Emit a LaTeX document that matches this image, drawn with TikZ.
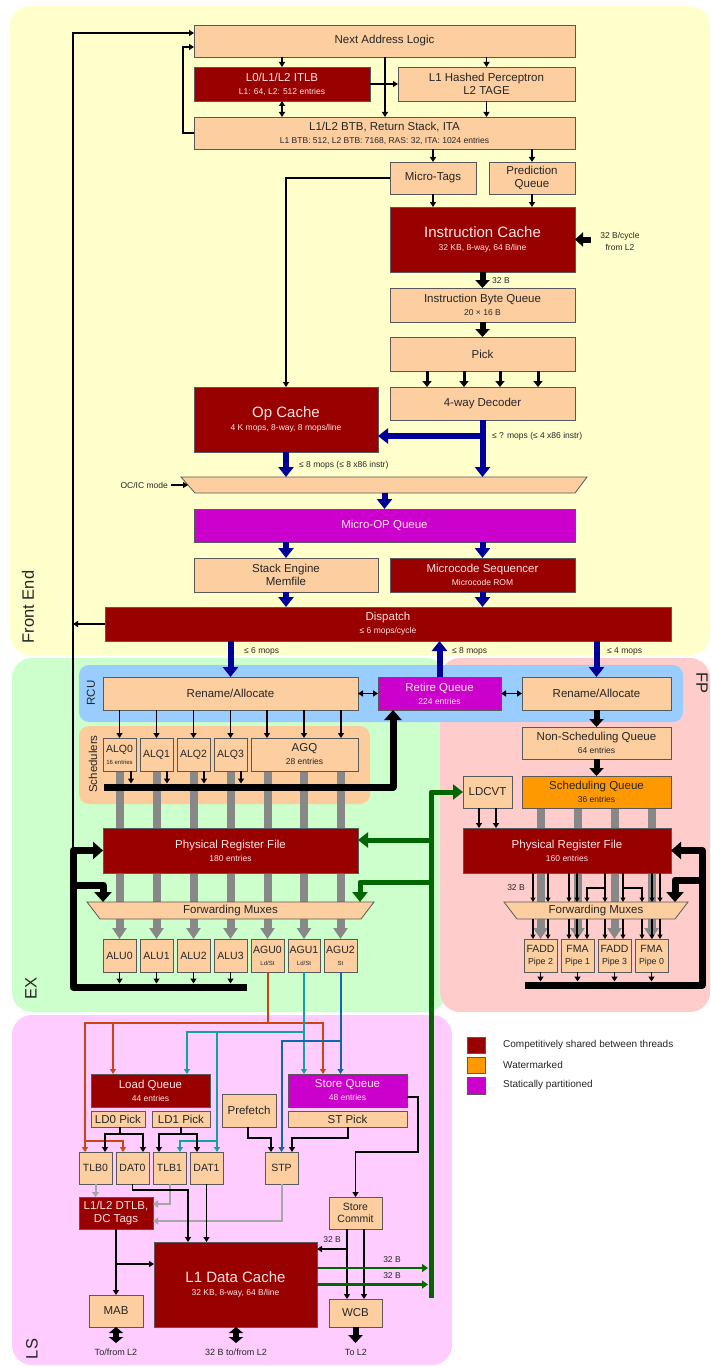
\documentclass[tikz,border=0pt]{standalone}
\usepackage{fontspec}
\setmainfont{Liberation Sans}
\usetikzlibrary{arrows.meta}
\pgfdeclarelayer{back}
\pgfdeclarelayer{mid}
\pgfsetlayers{back,mid,main}
\definecolor{peach}{RGB}{252,206,160}
\definecolor{dred}{RGB}{153,0,0}
\definecolor{mag}{RGB}{204,0,204}
\definecolor{orng}{RGB}{255,153,0}
\definecolor{yel}{RGB}{255,255,204}
\definecolor{grnbg}{RGB}{204,255,204}
\definecolor{fpbg}{RGB}{255,204,204}
\definecolor{lsbg}{RGB}{255,204,255}
\definecolor{rcubg}{RGB}{153,204,255}
\definecolor{schbg}{RGB}{252,204,156}
\definecolor{dblue}{RGB}{0,0,153}
\definecolor{dgreen}{RGB}{0,102,0}
\definecolor{gybar}{RGB}{136,136,136}
\definecolor{txtw}{RGB}{255,228,228}
\definecolor{ored}{RGB}{204,68,17}
\definecolor{tealw}{RGB}{17,160,170}
\definecolor{bluew}{RGB}{17,102,170}
\newcommand\fm{\fontsize{11.5}{13}\selectfont}
\newcommand\smf{\fontsize{8.5}{12}\selectfont}
\newcommand\tnf{\fontsize{6}{10}\selectfont}
\newcommand\bgf{\fontsize{15}{17}\selectfont}
\newcommand\unf{\fontsize{10.5}{12}\selectfont}
\newcommand\BX[7][pb]{\pgfmathsetmacro\bxw{#5-#3}\pgfmathsetmacro\bxh{#6-#4}%
  \node[#1, minimum width=\bxw pt, minimum height=\bxh pt] (#2) at ({(#3+#5)/2},{(#4+#6)/2}) {#7};}
\begin{document}
\begin{tikzpicture}[x=1pt,y=-1pt,
  pb/.style={draw=black!65, line width=0.8pt, fill=peach, text=black!85, align=center, inner sep=0pt, outer sep=0pt, font=\fm},
  rb/.style={pb, fill=dred, text=txtw},
  mb/.style={pb, fill=mag, text=txtw},
  ob/.style={pb, fill=orng},
  ub/.style={pb, font=\unf},
  lab/.style={font=\smf, text=black!85, inner sep=0pt, align=center},
  rl/.style={font=\fontsize{16.5}{18}\selectfont, text=black!85, inner sep=0pt},
  ar/.style={draw=black, line width=1.5pt, -{Triangle[length=5pt,width=6pt]}},
  arf/.style={draw=black, line width=1.3pt, -{Triangle[length=4.5pt,width=5pt]}},
  ln/.style={draw=black, line width=1.5pt},
  ar2/.style={draw=black, line width=1.5pt, {Triangle[length=5pt,width=6pt]}-{Triangle[length=5pt,width=6pt]}},
  pk/.style={draw=black, line width=3pt, -{Triangle[length=6pt,width=9pt]}},
  thk/.style={draw=black, line width=6pt, -{Triangle[length=8pt,width=14pt]}},
  dbl/.style={draw=black, line width=6pt, {Triangle[length=6pt,width=14pt]}-{Triangle[length=6pt,width=14pt]}},
  bl/.style={draw=dblue, line width=6pt, -{Triangle[length=10pt,width=15pt]}},
  gr/.style={draw=dgreen, line width=5pt, line join=round, -{Triangle[length=10pt,width=15pt]}},
  gra/.style={draw=dgreen, line width=2.5pt, -{Triangle[length=6pt,width=8pt]}},
  gy/.style={draw=gybar, line width=8pt, -{Triangle[length=11pt,width=14pt]}},
  gt/.style={draw=gybar!75, line width=2pt, -{Triangle[length=5pt,width=7pt]}},
  busar/.style={draw=black, line width=7pt, line join=round, -{Triangle[length=10pt,width=17pt]}},
  ow/.style={draw=ored, line width=2pt, -{Triangle[length=5pt,width=6pt]}},
  tw/.style={draw=tealw, line width=2pt, -{Triangle[length=5pt,width=6pt]}},
  bw/.style={draw=bluew, line width=2pt, -{Triangle[length=5pt,width=6pt]}},
]
\useasboundingbox (0,0) rectangle (710,1367);
% ---------------- nodes: front end
\BX{nal}{194}{25}{575}{57}{Next Address Logic}
\BX[rb]{itlb}{194}{67}{370}{101}{L0/L1/L2 ITLB\\\smf L1: 64, L2: 512 entries}
\BX{perc}{398}{67}{575}{101}{L1 Hashed Perceptron\\L2 TAGE}
\BX{btb}{194}{117}{575}{149}{L1/L2 BTB, Return Stack, ITA\\\smf L1 BTB: 512, L2 BTB: 7168, RAS: 32, ITA: 1024 entries}
\BX{mt}{390}{162}{476}{194}{Micro-Tags}
\BX{pq}{489}{162}{575}{194}{Prediction\\Queue}
\BX[rb]{ic}{390}{207}{575}{272}{\bgf Instruction Cache\\\smf 32 KB, 8-way, 64 B/line}
\BX{ibq}{390}{288}{575}{322}{Instruction Byte Queue\\\smf 20 × 16 B}
\BX{pick}{390}{337}{575}{371}{Pick}
\BX{dec}{390}{387}{575}{420}{4-way Decoder}
\BX[rb]{opc}{194}{387}{378}{452}{\bgf Op Cache\\\smf 4 K mops, 8-way, 8 mops/line}
\filldraw[draw=black!65, line width=0.8pt, fill=peach] (181,477) -- (587,477) -- (575,493) -- (195,493) -- cycle;
\node[inner sep=0pt, outer sep=0pt, minimum width=393pt, minimum height=16pt] (mux) at (384.5,485) {};
\BX[mb]{moq}{194}{509}{575}{542}{Micro-OP Queue}
\BX{se}{194}{558}{378}{592}{Stack Engine\\Memfile}
\BX[rb]{ms}{390}{558}{575}{592}{Microcode Sequencer\\\smf Microcode ROM}
\BX[rb]{disp}{105}{607}{671}{641}{Dispatch\\\smf ≤ 6 mops/cycle}
% ---------------- EX / FP
\BX{ren}{103}{677}{358}{710}{Rename/Allocate}
\BX[mb]{rq}{378}{677}{501}{710}{Retire Queue\\\smf 224 entries}
\BX{fren}{522}{677}{671}{710}{Rename/Allocate}
\BX[ub]{alq0}{103}{738}{136}{771}{ALQ0\\\tnf 16 entries}
\BX[ub]{alq1}{140}{738}{173}{771}{ALQ1}
\BX[ub]{alq2}{177}{738}{210}{771}{ALQ2}
\BX[ub]{alq3}{214}{738}{247}{771}{ALQ3}
\BX{agq}{251}{738}{358}{771}{AGQ\\\smf 28 entries}
\BX{nsq}{522}{727}{671}{759}{Non-Scheduling Queue\\\smf 64 entries}
\BX[ob]{sq}{522}{776}{671}{808}{Scheduling Queue\\\smf 36 entries}
\BX{ldcvt}{463}{776}{512}{808}{LDCVT}
\BX[rb]{prf}{103}{828}{358}{873}{Physical Register File\\\smf 180 entries}
\BX[rb]{fprf}{463}{828}{671}{873}{Physical Register File\\\smf 160 entries}
\filldraw[draw=black!65, line width=0.8pt, fill=peach] (87,902) -- (374,902) -- (361,919) -- (100,919) -- cycle;
\node[inner sep=0pt, outer sep=0pt, minimum width=280pt, minimum height=17pt, font=\fm, text=black!85] (fwd) at (230.5,910.5) {Forwarding Muxes};
\filldraw[draw=black!65, line width=0.8pt, fill=peach] (504,902) -- (688,902) -- (675,919) -- (517,919) -- cycle;
\node[inner sep=0pt, outer sep=0pt, minimum width=178pt, minimum height=17pt, font=\fm, text=black!85] (ffwd) at (596,910.5) {Forwarding Muxes};
\BX[ub]{alu0}{103}{939}{136}{972}{ALU0}
\BX[ub]{alu1}{140}{939}{173}{972}{ALU1}
\BX[ub]{alu2}{177}{939}{210}{972}{ALU2}
\BX[ub]{alu3}{214}{939}{247}{972}{ALU3}
\BX[ub]{agu0}{251}{939}{284}{972}{AGU0\\\tnf Ld/St}
\BX[ub]{agu1}{288}{939}{320}{972}{AGU1\\\tnf Ld/St}
\BX[ub]{agu2}{324}{939}{357}{972}{AGU2\\\tnf St}
\BX[ub]{fadd2}{524}{939}{557}{972}{FADD\\\fontsize{8.8}{12}\selectfont Pipe 2}
\BX[ub]{fma1}{561}{939}{594}{972}{FMA\\\fontsize{8.8}{12}\selectfont Pipe 1}
\BX[ub]{fadd3}{598}{939}{631}{972}{FADD\\\fontsize{8.8}{12}\selectfont Pipe 3}
\BX[ub]{fma0}{635}{939}{668}{972}{FMA\\\fontsize{8.8}{12}\selectfont Pipe 0}
% ---------------- LS
\BX[rb]{lq}{91}{1074}{210}{1107}{Load Queue\\\smf 44 entries}
\BX{ld0}{91}{1111}{145}{1127}{LD0 Pick}
\BX{ld1}{152}{1111}{210}{1127}{LD1 Pick}
\BX{pf}{222}{1094}{276}{1127}{Prefetch}
\BX[mb]{stq}{288}{1074}{407}{1107}{Store Queue\\\smf 48 entries}
\BX{stpick}{288}{1111}{407}{1127}{ST Pick}
\BX[ub]{tlb0}{79}{1152}{112}{1184}{TLB0}
\BX[ub]{dat0}{116}{1152}{149}{1184}{DAT0}
\BX[ub]{tlb1}{153}{1152}{186}{1184}{TLB1}
\BX[ub]{dat1}{190}{1152}{223}{1184}{DAT1}
\BX[ub]{stpu}{265}{1152}{298}{1184}{STP}
\BX[rb]{dtlb}{79}{1197}{153}{1229}{L1/L2 DTLB,\\DC Tags}
\BX[ub]{sc}{329}{1197}{382}{1229}{Store\\Commit}
\BX[rb]{l1d}{154}{1242}{317}{1327}{\bgf L1 Data Cache\\\smf 32 KB, 8-way, 64 B/line}
\BX{mab}{89}{1295}{143}{1327}{MAB}
\BX{wcb}{329}{1299}{382}{1327}{WCB}
% ---------------- legend
\BX[rb]{lg1}{467}{1037}{485}{1053}{}
\BX[ob]{lg2}{467}{1057}{485}{1073}{}
\BX[mb]{lg3}{467}{1077}{485}{1094}{}
\node[font=\fontsize{10}{12}\selectfont, text=black!85, anchor=west, inner sep=0pt] (lt1) at (503,1045) {Competitively shared between threads};
\node[font=\fontsize{10}{12}\selectfont, text=black!85, anchor=west, inner sep=0pt] (lt2) at (503,1065) {Watermarked};
\node[font=\fontsize{10}{12}\selectfont, text=black!85, anchor=west, inner sep=0pt] (lt3) at (503,1085) {Statically partitioned};
% ---------------- region labels
\node[rl, rotate=90] (fe) at (28,607) {Front End};
\node[rl, rotate=90] (ex) at (31,988) {EX};
\node[rl, rotate=90] (ls) at (32,1349) {LS};
\node[rl, rotate=-90] (fp) at (702,683) {FP};
\node[font=\fm, text=black!85, rotate=90, inner sep=0pt] (rcu) at (91,693) {RCU};
\node[font=\fm, text=black!85, rotate=90, inner sep=0pt] (sch) at (93,764) {Schedulers};
% ---------------- backgrounds
\begin{pgfonlayer}{back}
\fill[white] (0,0) rectangle (710,1367);
\fill[yel, rounded corners=20pt] (10,6) rectangle (710,655);
\fill[grnbg, rounded corners=20pt] (12,658) rectangle (446,1012);
\fill[fpbg, rounded corners=20pt] (440,658) rectangle (710,1012);
\fill[lsbg, rounded corners=20pt] (12,1015) rectangle (452,1365);
\fill[rcubg, rounded corners=10pt] (79,665) rectangle (683,722);
\fill[schbg, rounded corners=10pt] (79,726) rectangle (370,804);
\end{pgfonlayer}
\begin{pgfonlayer}{mid}
\foreach \q/\u in {alq0/alu0,alq1/alu1,alq2/alu2,alq3/alu3} \draw[gy] (\q.south) -- (\u.north);
\foreach \u in {agu0,agu1,agu2} \draw[gy] (agq.south -| \u) -- (\u.north);
\foreach \u in {fadd2,fma1,fadd3,fma0} \draw[gy] (sq.south -| \u) -- (\u.north);
\end{pgfonlayer}
% ---------------- front end connectors
\coordinate (busTop) at (73,851);
\draw[ar] (busTop) |- ([yshift=8pt]nal.west);
\draw[ar] (btb.west) -- ++(-11,0) |- ([yshift=-6pt]nal.west);
\draw[ar] (nal.south -| itlb) -- (itlb.north);
\draw[ar] (nal.south -| 385,0) -- (btb.north -| 385,0);
\draw[ar] (nal.south -| perc) -- (perc.north);
\draw[ar] (itlb.east) -- (perc.west);
\draw[ar2] (itlb.south) -- (btb.north -| itlb);
\draw[ar] (perc.south) -- (btb.north -| perc);
\draw[ar] (btb.south -| mt) -- (mt.north);
\draw[ar] (btb.south -| pq) -- (pq.north);
\draw[ar] (mt.south) -- (ic.north -| mt);
\draw[ar] (pq.south) -- (ic.north -| pq);
\draw[ar] (mt.west) -| (opc.north);
\draw[thk] ([xshift=16pt]ic.east) -- (ic.east);
\node[lab] (l2lab) at (620,241) {32 B/cycle\\from L2};
\draw[thk] (ic.south -| ibq) -- (ibq.north);
\node[lab, anchor=west] (b32) at (492,281) {32 B};
\draw[thk] (ibq.south) -- (pick.north);
\foreach \x in {427,464,500,538} \draw[pk] (pick.south -| \x,0) -- (dec.north -| \x,0);
\draw[bl] (dec.south) -- (mux.north -| dec);
\draw[bl] (dec.south |- 0,436) -- (opc.east |- 0,436);
\node[lab, anchor=west] (declab) at (492,436) {≤ ? mops (≤ 4 x86 instr)};
\draw[bl] (opc.south) -- (mux.north -| opc);
\node[lab, anchor=west] (opclab) at (299,465) {≤ 8 mops (≤ 8 x86 instr)};
\node[lab, anchor=east] (ocic) at (168,485) {OC/IC mode};
\draw[ar] (ocic.east) ++(3,0) -- (mux.west);
\draw[bl] (mux.south) -- (moq.north);
\draw[bl] (moq.south -| se) -- (se.north);
\draw[bl] (moq.south -| ms) -- (ms.north);
\draw[bl] (se.south) -- (disp.north -| se);
\draw[bl] (ms.south) -- (disp.north -| ms);
\draw[ar] (disp.west) -- (disp.west -| busTop);
\draw[bl] (disp.south -| ren) -- (ren.north);
\node[lab, anchor=west] (m6) at (244,651) {≤ 6 mops};
\draw[bl] (rq.north) -- (disp.south -| rq);
\node[lab, anchor=west] (m8) at (452,651) {≤ 8 mops};
\draw[bl] (disp.south -| fren) -- (fren.north);
\node[lab, anchor=west] (m4) at (607,651) {≤ 4 mops};
% ---------------- EX connectors
\draw[ar2] (ren.east) -- (rq.west);
\draw[ar2] (rq.east) -- (fren.west);
\foreach \q in {alq0,alq1,alq2,alq3} \draw[ar] (ren.south -| \q) -- (\q.north);
\foreach \x in {267,304,341} \draw[ar] (ren.south -| \x,0) -- (agq.north -| \x,0);
\foreach \q/\x in {alq0/131,alq1/167,alq2/204,alq3/241} \draw[ar] (\q.south -| \x,0) -- (\x,783.5);
\coordinate (ibus) at (104,787);
\draw[busar] (ibus) -| ([xshift=15pt]rq.south west);
\foreach \u in {alu0,alu1,alu2,alu3} \draw[ar] (\u.south) -- (\u.south |- 0,983.5);
\coordinate (ebus) at (247,987);
\draw[busar] (ebus) -- (73,987) |- (prf.west);
\draw[busar] (73,885) -| (fwd.north -| 103,0);
\coordinate (gbus) at (431,1298);
\draw[gr] (gbus) |- (ldcvt.west);
\draw[gr] (431,840) -- ([yshift=10.5pt]prf.east);
\draw[gr] (431,882) -| (fwd.north -| 360,0);
% ---------------- FP connectors
\draw[thk] (fren.south) -- (nsq.north);
\draw[thk] (nsq.south) -- (sq.north);
\draw[ar] (ldcvt.south -| 479,0) -- (fprf.north -| 479,0);
\draw[ar] (ldcvt.south -| 496,0) -- (fprf.north -| 496,0);
\foreach \x in {533,548,569,577,605,623,652,660} \draw[arf] (fprf.south -| \x,0) -- (ffwd.north -| \x,0);
\draw[arf] (605,888) -| (ffwd.north -| 587,0);
\draw[arf] (623,888) -| (ffwd.north -| 642,0);
\foreach \x in {533,548,569,577,587,605,623,642,652,660} \draw[arf] (ffwd.south -| \x,0) -- (fadd2.north -| \x,0);
\node[lab] (fp32) at (516,888) {32 B};
\foreach \u in {fadd2,fma1,fadd3,fma0} \draw[ar] (\u.south) -- (\u.south |- 0,981.5);
\coordinate (fbus) at (525,985);
\draw[busar] (fbus) -- (702,985) |- (fprf.east);
\draw[busar] (702,880) -| (ffwd.north -| 675,0);
% ---------------- LS connectors
\draw[ow] (agu0.south) |- (85,1023) -- (tlb0.north -| 85,0);
\draw[ow] (267,1023) -| (stq.north -| 323,0);
\draw[ow] (113,1023) -- (lq.north -| 113,0);
\draw[ow] (85,1141) -| (dat0.north -| 123,0);
\draw[tw] (agu1.south) |- (187,1032) -- (lq.north -| 187,0);
\draw[tw] (agu1.south) -- (stq.north -| agu1);
\draw[tw] (217,1032) -- (dat1.north -| 217,0);
\draw[tw] (217,1141) -| (tlb1.north -| 180,0);
\draw[bw] (agu2.south) -- (stq.north -| agu2);
\draw[bw] (agu2.south |- 0,1041) -| (stpu.north);
\draw[ln] (ld0.south -| 120,0) -- (120,1134);
\draw[ar] (120,1134) -| (tlb0.north -| 105,0);
\draw[ar] (120,1134) -| (dat0.north -| 143,0);
\draw[ln] (ld1.south -| 181,0) -- (181,1134);
\draw[ar] (181,1134) -| (tlb1.north -| 159,0);
\draw[ar] (181,1134) -| (dat1.north -| 197,0);
\draw[ar] (pf.south -| 248,0) -- (248,1138) -| (stpu.north -| 271,0);
\draw[ar] (stpick.south -| 348,0) -- (348,1138) -| (stpu.north -| 292,0);
\draw[ar] ([yshift=-6.5pt]stq.east) -| (418,1152) -| (sc.north);
\draw[gt] (tlb0.south) -- (dtlb.north -| tlb0);
\draw[gt] (tlb1.south) |- ([yshift=9pt]dtlb.east);
\draw[gt] (stpu.south) |- ([yshift=-8pt]dtlb.east);
\draw[ar] (dat0.south) |- (188,1190) -- (l1d.north -| 188,0);
\draw[ar] (dat1.south) -- (l1d.north -| dat1);
\draw[ar] (dtlb.south) -- (mab.north);
\draw[ar] (116,1264) -- ([yshift=20.5pt]l1d.west);
\draw[ar] (sc.south -| 347,0) -- (wcb.north -| 347,0);
\draw[ar] (sc.south -| 364,0) -- (wcb.north -| 364,0);
\draw[ar] (347,1249) -- ([yshift=35.5pt]l1d.east);
\node[lab, anchor=east] (sc32) at (341,1240) {32 B};
\draw[gra] ([yshift=16.5pt]l1d.east) -- (428,1268);
\draw[gra] (l1d.east) -- (428,1284.5);
\node[lab] (g32a) at (392,1260) {32 B};
\node[lab] (g32b) at (392,1276) {32 B};
\draw[dbl] (mab.south) -- ++(0,16);
\draw[dbl] (l1d.south -| 236,0) -- ++(0,16);
\draw[thk] (wcb.south) -- ++(0,16);
\node[lab, font=\fontsize{9}{11}\selectfont] (tl1) at (116,1352) {To/from L2};
\node[lab, font=\fontsize{9}{11}\selectfont] (tl2) at (236,1352) {32 B to/from L2};
\node[lab, font=\fontsize{9}{11}\selectfont] (tl3) at (356,1352) {To L2};
\end{tikzpicture}
\end{document}
